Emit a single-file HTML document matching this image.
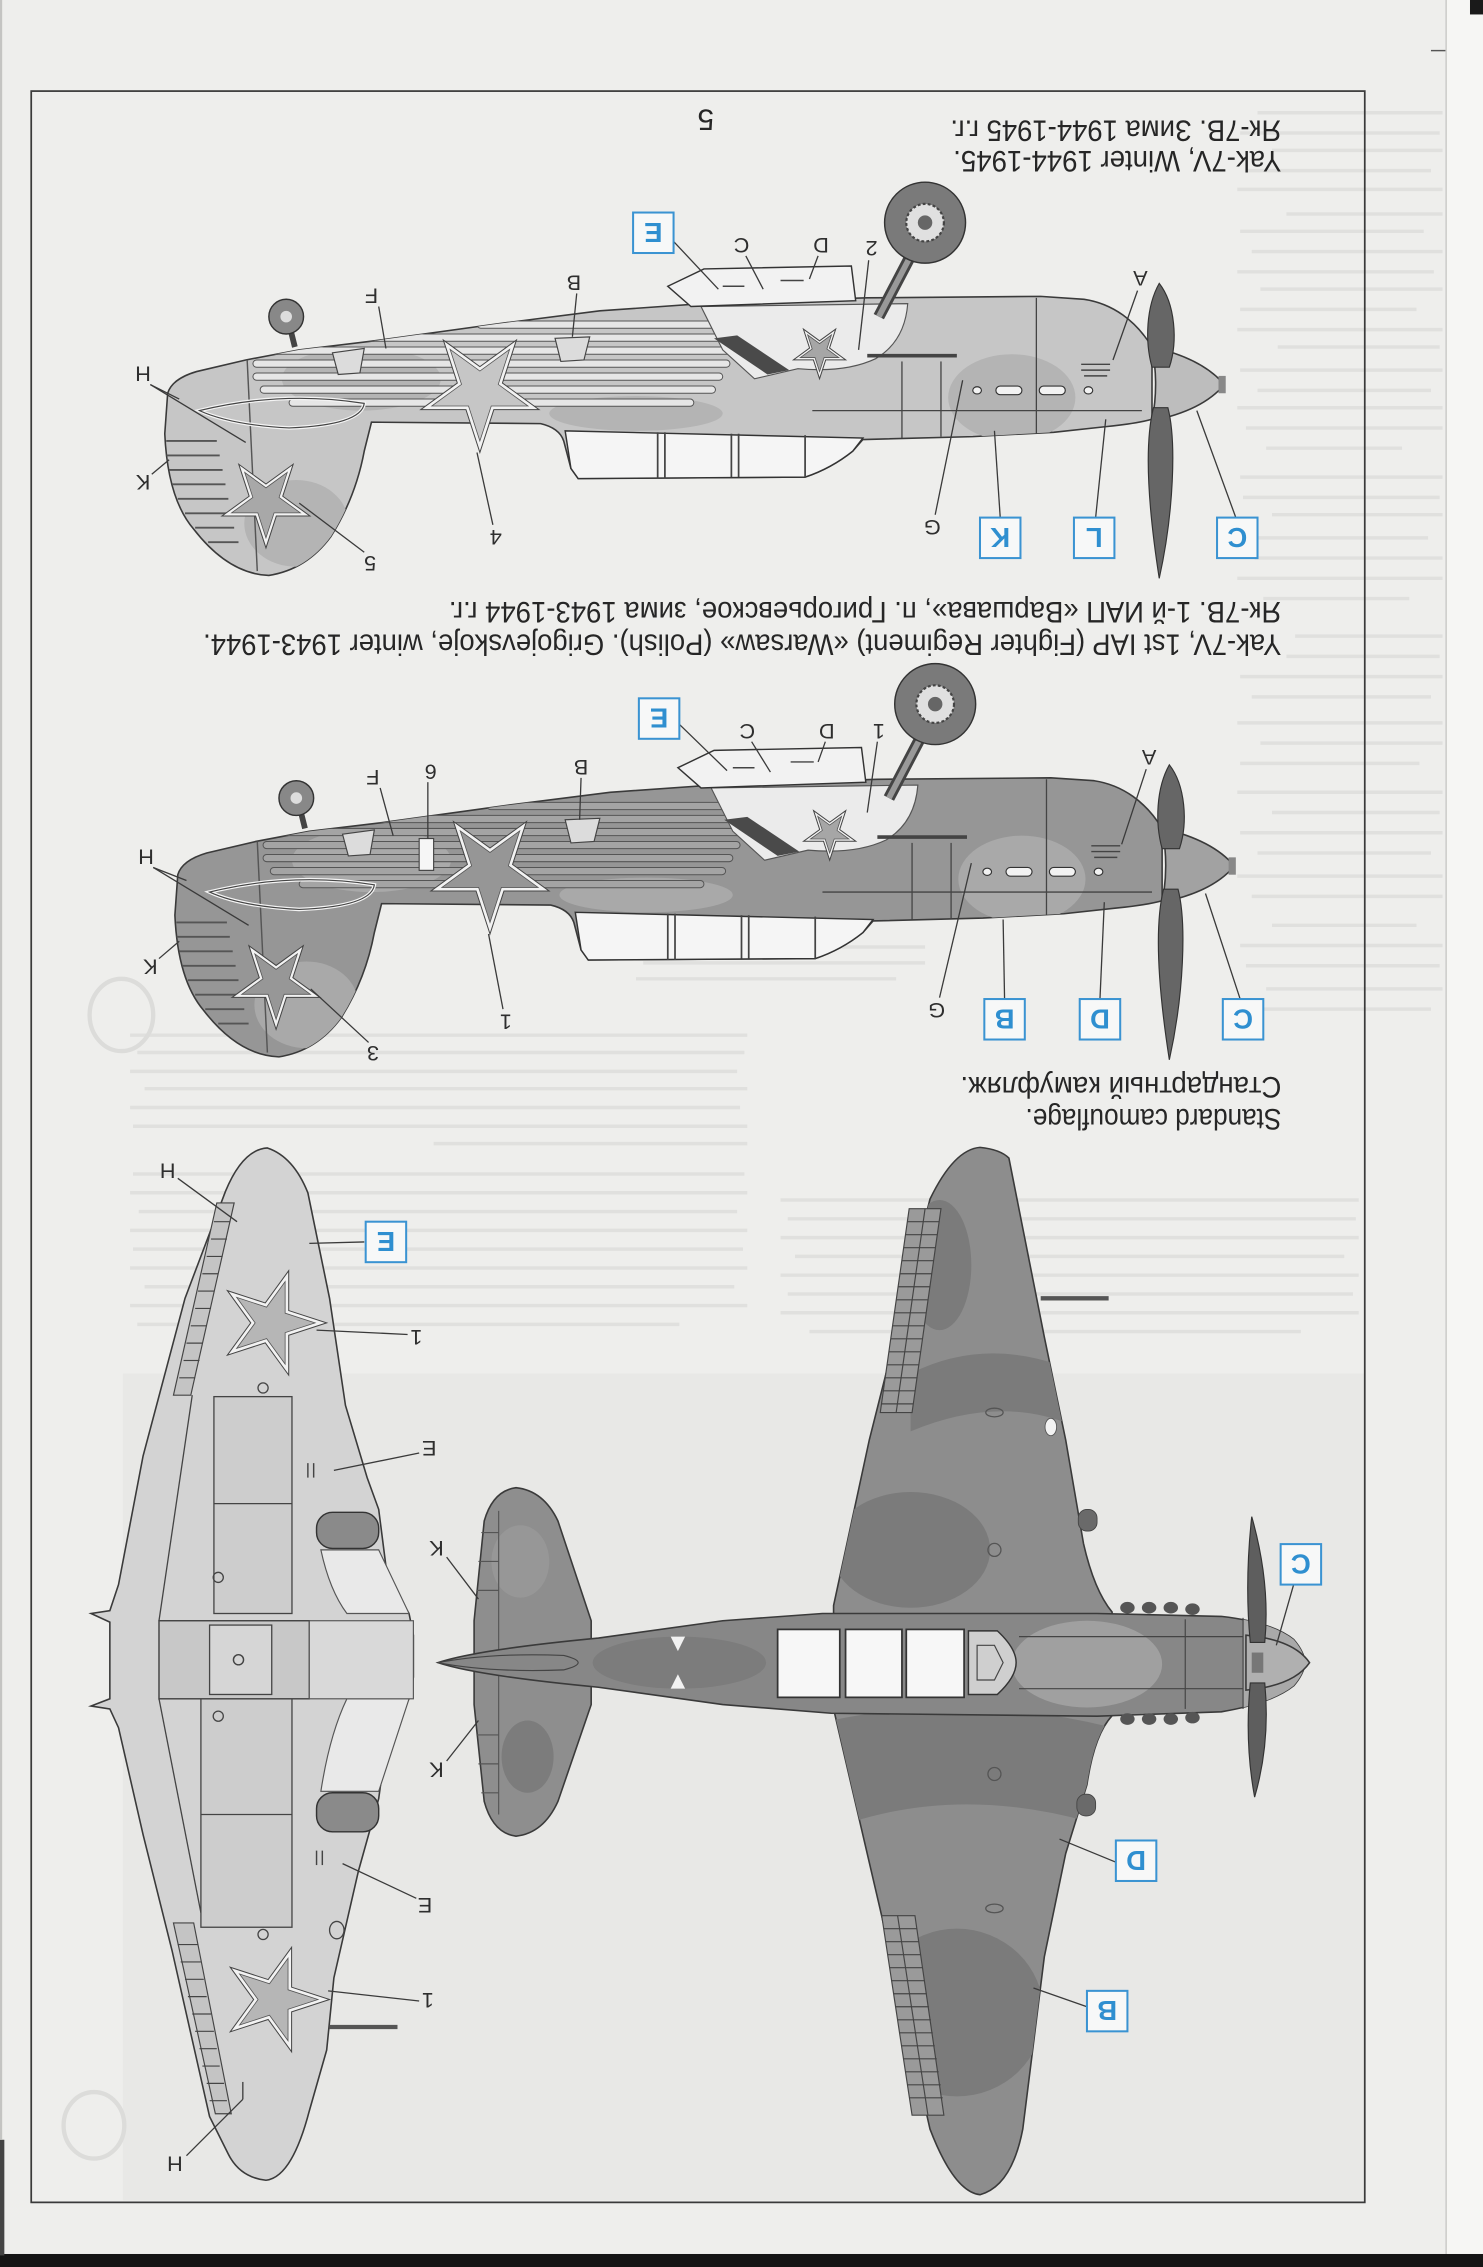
<!DOCTYPE html>
<html><head><meta charset="utf-8">
<style>
html,body{margin:0;padding:0;background:#eeeeec;}
svg{display:block}
.lb{font-family:"Liberation Sans",sans-serif;font-size:15px;fill:#2e2e2e;text-anchor:middle}
.bt{font-family:"Liberation Sans",sans-serif;font-weight:bold;font-size:19px;fill:#2f8fd0;text-anchor:middle}
.bx{fill:#f7f8f8;stroke:#3a93d2;stroke-width:1.4}
.ld{stroke:#3a3a3a;stroke-width:0.9;fill:none}
.t{font-family:"Liberation Sans",sans-serif;font-size:20.5px;fill:#262626}
.g{stroke:#e0e0de;stroke-width:2.4}
.ol{stroke:#3a3a3a;stroke-width:1.1}
</style></head><body>
<svg width="1483" height="2267" viewBox="0 0 1026 1568" preserveAspectRatio="none" xmlns="http://www.w3.org/2000/svg">
<defs>
<polygon id="st" vector-effect="non-scaling-stroke" points="0,1 -0.2245,0.309 -0.951,0.309 -0.363,-0.118 -0.588,-0.809 0,-0.382 0.588,-0.809 0.363,-0.118 0.951,0.309 0.2245,0.309"/>
<clipPath id="cs"><path d="M797,240 C786,222 770,210 750,207 L720,205 L600,206 L500,209 L415,215 L344,224 L257,236 L207,242 L170,249 L136,257 Q119,262 116,272 L114,300 Q116,345 134,366 Q158,397 186,398 Q212,394 229,371 Q246,344 252,312 L257,292 L374,293 Q387,296 390,305 L395,324 L400,331 L557,330 Q575,324 590,312 L597,304 L673,302 L729,299 L766,295 Q786,293 797,290 Z"/></clipPath>
<clipPath id="cw"><path d="M576.7,1110.5 L601.4,996 L643.4,829.4 Q660,795 678,793.6 Q692,795 698,801 L722.5,924.7 L737.3,996 L749.6,1067.6 Q757,1100 769.4,1115 L769.4,1186.7 Q757,1200 752,1234.4 L737.3,1282 L722.5,1353.5 L707.6,1472.6 Q700,1512 678,1518 Q660,1516 643.4,1472.6 L608.8,1320 L576.7,1182 Z"/></clipPath>
<clipPath id="cf"><path d="M303,1150 Q330,1141 414,1133 L500,1121 L569,1116 L759,1116 L845,1118 Q880,1122 895,1134 Q902,1142 903,1150 Q902,1158 895,1166 Q880,1178 845,1184 L759,1187 L575,1185 L500,1179 L414,1167 Q330,1159 303,1150 Z"/></clipPath>
<g id="side">
  <path class="ol" style="fill:var(--body)" d="M797,240 C786,222 770,210 750,207 L720,205 L600,206 L500,209 L415,215 L344,224 L257,236 L207,242 L170,249 L136,257 Q119,262 116,272 L114,300 Q116,345 134,366 Q158,397 186,398 Q212,394 229,371 Q246,344 252,312 L257,292 L374,293 Q387,296 390,305 L395,324 L400,331 L557,330 Q575,324 590,312 L597,304 L673,302 L729,299 L766,295 Q786,293 797,290 Z"/>
  <g clip-path="url(#cs)">
    <ellipse cx="700" cy="275" rx="44" ry="30" style="fill:var(--patch)"/>
    <ellipse cx="250" cy="262" rx="55" ry="22" style="fill:var(--patch)"/>
    <ellipse cx="205" cy="362" rx="36" ry="30" style="fill:var(--patch)"/>
    <ellipse cx="440" cy="286" rx="60" ry="12" style="fill:var(--patch)"/>
    <g style="fill:var(--rib)" stroke="#555" stroke-width="0.7">
      <rect x="330" y="222" width="170" height="5" rx="2.5"/>
      <rect x="230" y="231" width="275" height="5" rx="2.5"/>
      <rect x="185" y="240" width="325" height="5" rx="2.5"/>
      <rect x="175" y="249" width="330" height="5" rx="2.5"/>
      <rect x="175" y="258" width="325" height="5" rx="2.5"/>
      <rect x="180" y="267" width="315" height="5" rx="2.5"/>
      <rect x="200" y="276" width="280" height="5" rx="2.5"/>
    </g>
    <line x1="171" y1="249" x2="178" y2="395" stroke="#555" stroke-width="1"/>
    <g stroke="#555" stroke-width="1.3">
      <line x1="115" y1="305" x2="150" y2="305"/><line x1="115" y1="315" x2="152" y2="315"/>
      <line x1="117" y1="325" x2="154" y2="325"/><line x1="119" y1="335" x2="156" y2="335"/>
      <line x1="123" y1="345" x2="158" y2="345"/><line x1="128" y1="355" x2="160" y2="355"/>
      <line x1="135" y1="365" x2="162" y2="365"/><line x1="144" y1="375" x2="165" y2="375"/>
    </g>
  </g>
  <path d="M138,284 Q195,270 252,279 Q250,294 200,296 Q160,294 138,284 Z" fill="none" stroke="#f4f4f4" stroke-width="2.5"/>
  <path d="M138,284 Q195,270 252,279 Q250,294 200,296 Q160,294 138,284 Z" fill="none" stroke="#444" stroke-width="0.8"/>
  <polygon points="384,234 408,233 404,249 388,250" fill="#dcdcdc" stroke="#444" stroke-width="0.8"/>
  <polygon points="230,244 252,241 249,258 234,259" fill="#dcdcdc" stroke="#444" stroke-width="0.8"/>
  <path d="M485,212 L628,210 Q626,236 606,248 Q585,258 552,255 L522,262 L500,242 Z" fill="#ebebeb" stroke="#555" stroke-width="0.8"/>
  <polygon points="494,234 510,232 546,256 531,259" fill="#4a4a4a"/>
  <path d="M391,298 L597,303 L590,312 Q575,324 557,330 L400,331 L395,324 Z" fill="#f5f5f5" stroke="#333" stroke-width="1"/>
  <g stroke="#444" stroke-width="1.2">
    <line x1="455" y1="299" x2="455" y2="331"/><line x1="460" y1="299" x2="460" y2="331"/>
    <line x1="506" y1="300" x2="506" y2="330"/><line x1="511" y1="300" x2="511" y2="330"/>
    <line x1="557" y1="301" x2="557" y2="330"/>
  </g>
  <g stroke="#444" stroke-width="0.9">
    <line x1="717" y1="206" x2="717" y2="300"/>
    <line x1="624" y1="250" x2="624" y2="303"/><line x1="651" y1="250" x2="651" y2="302"/>
    <line x1="562" y1="284" x2="790" y2="284"/>
  </g>
  <line x1="600" y1="246" x2="662" y2="246" stroke="#444" stroke-width="2.5"/>
  <g fill="#f2f2f2" stroke="#333" stroke-width="0.8">
    <rect x="689" y="267" width="18" height="6" rx="3"/><rect x="719" y="267" width="18" height="6" rx="3"/>
    <ellipse cx="676" cy="270" rx="3" ry="2.5"/><ellipse cx="753" cy="270" rx="3" ry="2.5"/>
  </g>
  <g stroke="#444" stroke-width="1"><line x1="748" y1="252" x2="768" y2="252"/><line x1="748" y1="256" x2="768" y2="256"/><line x1="750" y1="260" x2="766" y2="260"/></g>
  <use href="#st" transform="translate(332,270) scale(43)" fill="#f2f2f2" stroke="#444" stroke-width="1"/>
  <use href="#st" transform="translate(332,270) scale(35)" style="fill:var(--body)" stroke="#555" stroke-width="0.8"/>
  <use href="#st" transform="translate(184,347) scale(32)" fill="#f2f2f2" stroke="#444" stroke-width="1"/>
  <use href="#st" transform="translate(184,347) scale(25)" style="fill:var(--star)" stroke="#555" stroke-width="0.8"/>
  <use href="#st" transform="translate(567,243) scale(19)" fill="#f2f2f2" stroke="#444" stroke-width="1"/>
  <use href="#st" transform="translate(567,243) scale(14)" fill="#a6a6a6" stroke="#555" stroke-width="0.8"/>
  <path d="M478,212 L462,198 L487,186 L589,184 L592,208 Z" fill="#f2f2f2" stroke="#333" stroke-width="1"/>
  <g stroke="#444" stroke-width="1"><line x1="500" y1="198" x2="515" y2="198"/><line x1="540" y1="194" x2="556" y2="194"/></g>
  <line x1="641" y1="156" x2="608" y2="219" stroke="#444" stroke-width="8"/>
  <line x1="641" y1="156" x2="608" y2="219" stroke="#999" stroke-width="4"/>
  <circle cx="640" cy="154" r="28" fill="#7a7a7a" stroke="#333" stroke-width="1"/>
  <circle cx="640" cy="154" r="13" fill="#e0e0e0" stroke="#444" stroke-width="1.5" stroke-dasharray="2 1.5"/>
  <circle cx="640" cy="154" r="5" fill="#666"/>
  <line x1="204" y1="240" x2="200" y2="224" stroke="#444" stroke-width="4"/>
  <circle cx="198" cy="219" r="12" fill="#888" stroke="#333" stroke-width="1"/>
  <circle cx="198" cy="219" r="4" fill="#ddd"/>
  <path class="ol" style="fill:var(--spin)" d="M797,240 Q832,248 847,266 Q832,284 797,291 Q802,266 797,240 Z"/>
  <rect x="843" y="260" width="5" height="12" fill="#888"/>
  <path d="M802,196 C813,210 815,236 809,254 L797,254 C792,236 793,212 802,196 Z" fill="#666" stroke="#333" stroke-width="0.8"/>
  <path d="M798,282 L808,282 C814,305 812,355 802,400 C795,355 791,310 798,282 Z" fill="#666" stroke="#333" stroke-width="0.8"/>
</g>
</defs>

<!-- paper -->
<rect x="0" y="0" width="1026" height="1568" fill="#eeeeec"/>
<rect x="1000" y="0" width="26" height="1560" fill="#f6f6f4"/>
<line x1="1000.5" y1="0" x2="1000.5" y2="1560" stroke="#c9c9c7" stroke-width="1"/>
<rect x="1017" y="0" width="9" height="10" fill="#1a1a1a"/>
<line x1="990" y1="35" x2="1000" y2="35" stroke="#555" stroke-width="1"/>
<rect x="0" y="1559" width="1026" height="9" fill="#151515"/>
<rect x="0" y="1480" width="3" height="80" fill="#444"/>
<rect x="0" y="0" width="1.5" height="1480" fill="#c4c4c2"/>

<!-- ghost bleed-through -->
<rect x="85" y="950" width="859" height="572" fill="#e8e8e6"/>
<g class="g">
<line x1="870" y1="78" x2="998" y2="78"/><line x1="858" y1="92" x2="996" y2="92"/><line x1="880" y1="104" x2="998" y2="104"/>
<line x1="862" y1="118" x2="990" y2="118"/><line x1="856" y1="131" x2="998" y2="131"/><line x1="890" y1="148" x2="998" y2="148"/>
<line x1="858" y1="160" x2="985" y2="160"/><line x1="866" y1="174" x2="998" y2="174"/><line x1="856" y1="188" x2="992" y2="188"/>
<line x1="872" y1="200" x2="998" y2="200"/><line x1="858" y1="214" x2="980" y2="214"/><line x1="856" y1="228" x2="998" y2="228"/>
<line x1="884" y1="240" x2="996" y2="240"/><line x1="858" y1="256" x2="998" y2="256"/><line x1="870" y1="270" x2="990" y2="270"/>
<line x1="856" y1="282" x2="998" y2="282"/><line x1="862" y1="296" x2="998" y2="296"/><line x1="876" y1="310" x2="970" y2="310"/>
<line x1="858" y1="330" x2="998" y2="330"/><line x1="860" y1="344" x2="996" y2="344"/><line x1="880" y1="356" x2="998" y2="356"/>
<line x1="858" y1="372" x2="988" y2="372"/><line x1="868" y1="386" x2="998" y2="386"/><line x1="856" y1="400" x2="998" y2="400"/>
<line x1="874" y1="414" x2="975" y2="414"/><line x1="896" y1="440" x2="998" y2="440"/><line x1="890" y1="454" x2="996" y2="454"/>
<line x1="858" y1="468" x2="998" y2="468"/><line x1="866" y1="482" x2="990" y2="482"/><line x1="856" y1="500" x2="998" y2="500"/>
<line x1="872" y1="514" x2="998" y2="514"/><line x1="858" y1="528" x2="982" y2="528"/><line x1="856" y1="548" x2="998" y2="548"/>
<line x1="880" y1="562" x2="996" y2="562"/><line x1="858" y1="576" x2="998" y2="576"/><line x1="870" y1="590" x2="990" y2="590"/>
<line x1="856" y1="606" x2="998" y2="606"/><line x1="866" y1="620" x2="998" y2="620"/><line x1="880" y1="640" x2="980" y2="640"/>
<line x1="858" y1="654" x2="998" y2="654"/><line x1="862" y1="668" x2="996" y2="668"/><line x1="876" y1="684" x2="998" y2="684"/>
<line x1="858" y1="698" x2="990" y2="698"/>
<line x1="90" y1="716" x2="517" y2="716"/><line x1="95" y1="728" x2="515" y2="728"/><line x1="90" y1="741" x2="510" y2="741"/>
<line x1="100" y1="753" x2="517" y2="753"/><line x1="90" y1="766" x2="512" y2="766"/><line x1="92" y1="779" x2="517" y2="779"/>
<line x1="300" y1="791" x2="517" y2="791"/><line x1="92" y1="812" x2="515" y2="812"/><line x1="90" y1="825" x2="517" y2="825"/>
<line x1="96" y1="838" x2="510" y2="838"/><line x1="90" y1="851" x2="517" y2="851"/><line x1="92" y1="864" x2="514" y2="864"/>
<line x1="90" y1="877" x2="517" y2="877"/><line x1="100" y1="890" x2="508" y2="890"/><line x1="90" y1="903" x2="517" y2="903"/>
<line x1="95" y1="916" x2="470" y2="916"/>
<line x1="540" y1="830" x2="940" y2="830"/><line x1="545" y1="843" x2="938" y2="843"/><line x1="540" y1="856" x2="940" y2="856"/>
<line x1="550" y1="869" x2="930" y2="869"/><line x1="540" y1="882" x2="940" y2="882"/><line x1="545" y1="895" x2="936" y2="895"/>
<line x1="540" y1="908" x2="940" y2="908"/><line x1="560" y1="921" x2="900" y2="921"/>
<line x1="440" y1="655" x2="640" y2="655"/><line x1="445" y1="666" x2="640" y2="666"/><line x1="440" y1="677" x2="620" y2="677"/>
</g>
<ellipse cx="84" cy="702" rx="22" ry="25" fill="none" stroke="#dcdcda" stroke-width="3"/>
<ellipse cx="65" cy="1470" rx="21" ry="23" fill="none" stroke="#dcdcda" stroke-width="3"/>

<!-- frame -->
<rect x="21.6" y="63" width="922.6" height="1460.3" fill="none" stroke="#3a3a3a" stroke-width="1.2"/>

<!-- side views -->
<use href="#side" style="--body:#c6c6c6;--patch:#b4b4b4;--rib:#e6e6e6;--spin:#bdbdbd;--star:#a8a8a8"/>
<use href="#side" transform="translate(7,333)" style="--body:#969696;--patch:#a9a9a9;--rib:#a4a4a4;--spin:#a2a2a2;--star:#979797"/>
<rect x="290" y="580" width="10" height="22" fill="#f6f6f6" stroke="#444" stroke-width="0.8"/>

<!-- plan view C (upper surface) -->
<path class="ol" fill="#8d8d8d" d="M576.7,1110.5 L601.4,996 L643.4,829.4 Q660,795 678,793.6 Q692,795 698,801 L722.5,924.7 L737.3,996 L749.6,1067.6 Q757,1100 769.4,1115 L769.4,1186.7 Q757,1200 752,1234.4 L737.3,1282 L722.5,1353.5 L707.6,1472.6 Q700,1512 678,1518 Q660,1516 643.4,1472.6 L608.8,1320 L576.7,1182 Z"/>
<g clip-path="url(#cw)" fill="#7b7b7b">
  <ellipse cx="650" cy="875" rx="22" ry="45"/>
  <path d="M630,950 Q680,925 735,945 L740,985 Q690,965 630,990 Z"/>
  <ellipse cx="630" cy="1072" rx="55" ry="40"/>
  <path d="M575,1190 Q670,1170 770,1195 L760,1262 Q670,1235 590,1260 Z"/>
  <ellipse cx="662" cy="1392" rx="60" ry="58"/>
</g>
<path fill="#9a9a9a" stroke="#444" stroke-width="0.8" d="M629,836 L651,836 L631,977 L609,977 Z"/>
<path fill="#9a9a9a" stroke="#444" stroke-width="0.8" d="M610,1325 L633,1325 L653,1463 L631,1463 Z"/>
<g stroke="#444" stroke-width="0.8">
<line x1="627.7" y1="845" x2="649.7" y2="845"/><line x1="626.4" y1="854" x2="648.4" y2="854"/><line x1="625.2" y1="863" x2="647.2" y2="863"/><line x1="623.9" y1="872" x2="645.9" y2="872"/><line x1="622.6" y1="881" x2="644.6" y2="881"/><line x1="621.3" y1="890" x2="643.3" y2="890"/><line x1="620.1" y1="899" x2="642.1" y2="899"/><line x1="618.8" y1="908" x2="640.8" y2="908"/><line x1="617.5" y1="917" x2="639.5" y2="917"/><line x1="616.2" y1="926" x2="638.2" y2="926"/><line x1="615" y1="935" x2="637" y2="935"/><line x1="613.7" y1="944" x2="635.7" y2="944"/><line x1="612.4" y1="953" x2="634.4" y2="953"/><line x1="611.1" y1="962" x2="633.1" y2="962"/><line x1="609.9" y1="971" x2="631.9" y2="971"/>
<line x1="611.4" y1="1334" x2="634.4" y2="1334"/><line x1="612.7" y1="1343" x2="635.7" y2="1343"/><line x1="614.1" y1="1352" x2="637.1" y2="1352"/><line x1="615.5" y1="1361" x2="638.5" y2="1361"/><line x1="616.8" y1="1370" x2="639.8" y2="1370"/><line x1="618.2" y1="1379" x2="641.2" y2="1379"/><line x1="619.6" y1="1388" x2="642.6" y2="1388"/><line x1="621" y1="1397" x2="644" y2="1397"/><line x1="622.3" y1="1406" x2="645.3" y2="1406"/><line x1="623.7" y1="1415" x2="646.7" y2="1415"/><line x1="625.1" y1="1424" x2="648.1" y2="1424"/><line x1="626.4" y1="1433" x2="649.4" y2="1433"/><line x1="627.8" y1="1442" x2="650.8" y2="1442"/><line x1="629.2" y1="1451" x2="652.2" y2="1451"/>
<line x1="640" y1="836" x2="620" y2="977"/><line x1="621" y1="1325" x2="642" y2="1463"/>
</g>
<line x1="720" y1="898" x2="767" y2="898" stroke="#555" stroke-width="3"/>
<rect x="746" y="1044" width="13" height="15" rx="6" fill="#6a6a6a" stroke="#444" stroke-width="0.6"/>
<rect x="745" y="1241" width="13" height="15" rx="6" fill="#6a6a6a" stroke="#444" stroke-width="0.6"/>
<g fill="none" stroke="#555" stroke-width="0.9">
<circle cx="688" cy="1072" r="4.5"/><circle cx="688" cy="1227" r="4.5"/>
<ellipse cx="688" cy="977" rx="6" ry="3"/><ellipse cx="688" cy="1320" rx="6" ry="3"/>
</g>
<ellipse cx="727" cy="987" rx="4" ry="6" fill="#f2f2f2" stroke="#555" stroke-width="0.6"/>
<!-- tailplane C -->
<path class="ol" fill="#8e8e8e" d="M357,1029 Q376,1031 386,1052 L409,1121 L409,1179 L386,1246 Q376,1268 357,1270 Q341,1268 335,1246 L328,1179 L328,1121 L335,1052 Q341,1031 357,1029 Z"/>
<ellipse cx="360" cy="1080" rx="20" ry="25" fill="#979797"/>
<ellipse cx="365" cy="1215" rx="18" ry="25" fill="#7c7c7c"/>
<g stroke="#555" stroke-width="0.8">
<line x1="333" y1="1060" x2="345" y2="1060"/><line x1="331" y1="1080" x2="345" y2="1080"/><line x1="330" y1="1100" x2="345" y2="1100"/>
<line x1="330" y1="1200" x2="345" y2="1200"/><line x1="331" y1="1220" x2="345" y2="1220"/><line x1="333" y1="1240" x2="345" y2="1240"/>
<line x1="345" y1="1045" x2="345" y2="1255"/>
</g>
<!-- fuselage C -->
<path class="ol" fill="#878787" d="M303,1150 Q330,1141 414,1133 L500,1121 L569,1116 L759,1116 L845,1118 Q880,1122 895,1134 Q902,1142 903,1150 Q902,1158 895,1166 Q880,1178 845,1184 L759,1187 L575,1185 L500,1179 L414,1167 Q330,1159 303,1150 Z"/>
<g clip-path="url(#cf)">
<ellipse cx="752" cy="1151" rx="52" ry="30" fill="#a0a0a0"/>
<ellipse cx="470" cy="1150" rx="60" ry="18" fill="#7c7c7c"/>
<rect x="860" y="1115" width="50" height="75" fill="#a9a9a9"/>
</g>
<g stroke="#444" stroke-width="0.8" fill="none">
<line x1="705" y1="1132" x2="860" y2="1132"/><line x1="705" y1="1168" x2="860" y2="1168"/>
<line x1="820" y1="1120" x2="820" y2="1182"/><line x1="860" y1="1119" x2="860" y2="1182"/>
<path d="M303,1150 Q340,1143 390,1145 Q410,1150 390,1155 Q340,1157 303,1150"/>
</g>
<g fill="#555"><ellipse cx="780" cy="1112" rx="5" ry="4"/><ellipse cx="795" cy="1112" rx="5" ry="4"/><ellipse cx="810" cy="1112" rx="5" ry="4"/><ellipse cx="825" cy="1113" rx="5" ry="4"/>
<ellipse cx="780" cy="1189" rx="5" ry="4"/><ellipse cx="795" cy="1189" rx="5" ry="4"/><ellipse cx="810" cy="1189" rx="5" ry="4"/><ellipse cx="825" cy="1188" rx="5" ry="4"/></g>
<polygon points="464,1132 474,1132 469,1142" fill="#f2f2f2"/>
<polygon points="464,1168 474,1168 469,1158" fill="#f2f2f2"/>
<g fill="#f7f7f7" stroke="#333" stroke-width="1.2">
<rect x="538" y="1127" width="43" height="47"/><rect x="585" y="1127" width="39" height="47"/><rect x="627" y="1127" width="40" height="47"/>
</g>
<path d="M670,1128 L690,1128 Q703,1140 703,1150 Q703,1160 690,1172 L670,1172 Z" fill="#cfcfcf" stroke="#333" stroke-width="1"/>
<path d="M676,1138 L688,1138 L694,1150 L688,1162 L676,1162 Z" fill="none" stroke="#444" stroke-width="0.8"/>
<path class="ol" fill="#b0b0b0" d="M862,1131 Q895,1134 906,1150 Q895,1166 862,1169 Z"/>
<path d="M866,1049 Q879,1095 875,1136 L865,1136 Q861,1095 866,1049 Z" fill="#5e5e5e" stroke="#333" stroke-width="0.8"/>
<path d="M865,1164 L875,1164 Q879,1205 868,1243 Q861,1205 865,1164 Z" fill="#5e5e5e" stroke="#333" stroke-width="0.8"/>
<rect x="866" y="1143" width="8" height="14" fill="#777"/>

<!-- plan view D (lower surface) -->
<path class="ol" fill="#d3d3d3" d="M185,794 Q203,800 213,825 L228,898 L239,972 L254,1022 L262,1044 L268,1091 L283,1116 L286,1131 L286,1160 L283,1175 L268,1200 L262,1244 L248,1294 L231,1368 L226,1418 L214,1460 Q202,1506 184,1508 Q166,1506 158,1490 L145,1464 L119,1349 L99,1269 L82,1195 L76,1182 L63,1180 L76,1175 L76,1122 L63,1116 L76,1114 L82,1096 L99,1007 L128,898 L156,824 Q168,795 185,794 Z"/>
<g fill="#cdcdcd" stroke="#444" stroke-width="0.9">
<rect x="148" y="966" width="54" height="150"/><rect x="139" y="1175" width="63" height="158"/>
</g>
<g stroke="#444" stroke-width="0.9" fill="none">
<line x1="148" y1="1040" x2="202" y2="1040"/><line x1="139" y1="1255" x2="202" y2="1255"/>
<line x1="133" y1="965" x2="110" y2="1121"/><line x1="110" y1="1175" x2="139" y2="1323"/>
</g>
<rect x="110" y="1121" width="104" height="54" fill="#c8c8c8" stroke="#444" stroke-width="1"/>
<rect x="145" y="1124" width="43" height="48" fill="#d6d6d6" stroke="#444" stroke-width="0.9"/>
<circle cx="165" cy="1148" r="3.5" fill="none" stroke="#444"/>
<path d="M222,1072 L262,1072 L283,1116 L240,1116 Q228,1100 222,1072 Z" fill="#e9e9e9" stroke="#555" stroke-width="0.8"/>
<path d="M222,1239 L262,1239 L283,1175 L240,1175 Q228,1200 222,1239 Z" fill="#e9e9e9" stroke="#555" stroke-width="0.8"/>
<rect x="214" y="1121" width="72" height="54" fill="#d9d9d9" stroke="#555" stroke-width="0.8"/>
<rect x="219" y="1046" width="43" height="25" rx="11" fill="#8a8a8a" stroke="#333" stroke-width="1"/>
<rect x="219" y="1240" width="43" height="27" rx="11" fill="#8a8a8a" stroke="#333" stroke-width="1"/>
<g fill="none" stroke="#444" stroke-width="0.9">
<circle cx="182" cy="960" r="3.5"/><circle cx="151" cy="1091" r="3.5"/><circle cx="151" cy="1187" r="3.5"/><circle cx="182" cy="1338" r="3.5"/>
<ellipse cx="233" cy="1335" rx="5" ry="6"/>
</g>
<path fill="#c4c4c4" stroke="#444" stroke-width="0.8" d="M150,832 L162,832 L132,965 L120,965 Z"/>
<path fill="#c4c4c4" stroke="#444" stroke-width="0.8" d="M120,1330 L134,1330 L160,1462 L149,1462 Z"/>
<g stroke="#444" stroke-width="0.8">
<line x1="148" y1="845" x2="159" y2="845"/><line x1="146" y1="857" x2="157" y2="857"/><line x1="143" y1="869" x2="154" y2="869"/><line x1="140" y1="881" x2="151" y2="881"/><line x1="137" y1="893" x2="148" y2="893"/><line x1="135" y1="905" x2="146" y2="905"/><line x1="132" y1="917" x2="143" y2="917"/><line x1="129" y1="929" x2="140" y2="929"/><line x1="127" y1="941" x2="138" y2="941"/><line x1="124" y1="953" x2="135" y2="953"/>
<line x1="123" y1="1345" x2="137" y2="1345"/><line x1="125" y1="1357" x2="139" y2="1357"/><line x1="128" y1="1369" x2="141" y2="1369"/><line x1="130" y1="1381" x2="143" y2="1381"/><line x1="133" y1="1393" x2="146" y2="1393"/><line x1="135" y1="1405" x2="148" y2="1405"/><line x1="138" y1="1417" x2="150" y2="1417"/><line x1="140" y1="1429" x2="152" y2="1429"/><line x1="143" y1="1441" x2="155" y2="1441"/><line x1="145" y1="1453" x2="157" y2="1453"/>
</g>
<use href="#st" transform="translate(188,915) rotate(-90) scale(38)" fill="#f2f2f2" stroke="#444" stroke-width="1"/>
<use href="#st" transform="translate(188,915) rotate(-90) scale(30)" fill="#b6b6b6" stroke="#555" stroke-width="0.8"/>
<use href="#st" transform="translate(190,1383) rotate(-90) scale(38)" fill="#f2f2f2" stroke="#444" stroke-width="1"/>
<use href="#st" transform="translate(190,1383) rotate(-90) scale(30)" fill="#b6b6b6" stroke="#555" stroke-width="0.8"/>
<line x1="228" y1="1402" x2="275" y2="1402" stroke="#555" stroke-width="3"/>
<g stroke="#444" stroke-width="1"><line x1="213" y1="1012" x2="213" y2="1022"/><line x1="217" y1="1012" x2="217" y2="1022"/><line x1="219" y1="1280" x2="219" y2="1290"/><line x1="223" y1="1280" x2="223" y2="1290"/></g>

<!-- leaders -->
<g class="ld">
<line x1="787" y1="201" x2="770" y2="249"/><line x1="399" y1="203" x2="396" y2="233"/><line x1="262" y1="212" x2="267" y2="241"/>
<line x1="601" y1="180" x2="594" y2="242"/><line x1="516" y1="177" x2="528" y2="200"/><line x1="566" y1="177" x2="560" y2="193"/>
<line x1="466" y1="167" x2="497" y2="200"/><line x1="104" y1="266" x2="124" y2="276"/><line x1="104" y1="266" x2="170" y2="306"/>
<line x1="105" y1="328" x2="117" y2="318"/><line x1="252" y1="382" x2="207" y2="348"/><line x1="341" y1="363" x2="330" y2="313"/>
<line x1="647" y1="356" x2="666" y2="263"/><line x1="692" y1="358" x2="688" y2="298"/><line x1="758" y1="358" x2="765" y2="290"/><line x1="855" y1="358" x2="828" y2="284"/>
<line x1="793" y1="532" x2="776" y2="584"/><line x1="402" y1="538" x2="401" y2="567"/><line x1="263" y1="545" x2="272" y2="578"/>
<line x1="296" y1="541" x2="296" y2="580"/><line x1="106" y1="600" x2="129" y2="609"/><line x1="106" y1="600" x2="172" y2="640"/>
<line x1="110" y1="663" x2="124" y2="651"/><line x1="255" y1="721" x2="215" y2="684"/><line x1="348" y1="698" x2="338" y2="646"/>
<line x1="650" y1="690" x2="672" y2="597"/><line x1="695" y1="691" x2="694" y2="636"/><line x1="761" y1="691" x2="764" y2="624"/><line x1="858" y1="691" x2="834" y2="618"/>
<line x1="520" y1="513" x2="533" y2="534"/><line x1="571" y1="513" x2="566" y2="527"/><line x1="607" y1="513" x2="600" y2="562"/><line x1="470" y1="501" x2="503" y2="533"/>
<line x1="123" y1="815" x2="164" y2="845"/><line x1="252" y1="859" x2="214" y2="860"/><line x1="282" y1="923" x2="219" y2="920"/>
<line x1="290" y1="1005" x2="231" y2="1017"/><line x1="309" y1="1077" x2="331" y2="1106"/><line x1="309" y1="1218" x2="331" y2="1190"/>
<line x1="288" y1="1313" x2="237" y2="1289"/><line x1="290" y1="1384" x2="227" y2="1377"/><line x1="129" y1="1491" x2="168" y2="1452"/><line x1="168" y1="1440" x2="168" y2="1452"/>
<line x1="895" y1="1096" x2="883" y2="1138"/><line x1="772" y1="1288" x2="733" y2="1272"/><line x1="752" y1="1388" x2="715" y2="1375"/>
</g>

<!-- labels plane A -->
<text class="lb" x="789" y="198.4" transform="rotate(180 789 193)">A</text>
<text class="lb" x="397" y="201.4" transform="rotate(180 397 196)">B</text>
<text class="lb" x="257" y="210.4" transform="rotate(180 257 205)">F</text>
<text class="lb" x="603" y="177.4" transform="rotate(180 603 172)">2</text>
<text class="lb" x="513" y="175.4" transform="rotate(180 513 170)">C</text>
<text class="lb" x="568" y="175.4" transform="rotate(180 568 170)">D</text>
<text class="lb" x="99" y="264.4" transform="rotate(180 99 259)">H</text>
<text class="lb" x="99" y="339.4" transform="rotate(180 99 334)">K</text>
<text class="lb" x="256" y="395.4" transform="rotate(180 256 390)">5</text>
<text class="lb" x="343" y="377.4" transform="rotate(180 343 372)">4</text>
<text class="lb" x="645" y="370.4" transform="rotate(180 645 365)">G</text>
<rect class="bx" x="438" y="147" width="28" height="28"/><text class="bt" x="452" y="167.9" transform="rotate(180 452 161)">E</text>
<rect class="bx" x="678" y="358" width="28" height="28"/><text class="bt" x="692" y="378.9" transform="rotate(180 692 372)">K</text>
<rect class="bx" x="743" y="358" width="28" height="28"/><text class="bt" x="757" y="378.9" transform="rotate(180 757 372)">L</text>
<rect class="bx" x="842" y="358" width="28" height="28"/><text class="bt" x="856" y="378.9" transform="rotate(180 856 372)">C</text>

<!-- labels plane B -->
<text class="lb" x="795" y="529.4" transform="rotate(180 795 524)">A</text>
<text class="lb" x="402" y="536.4" transform="rotate(180 402 531)">B</text>
<text class="lb" x="298" y="539.4" transform="rotate(180 298 534)">6</text>
<text class="lb" x="258" y="543.4" transform="rotate(180 258 538)">F</text>
<text class="lb" x="101" y="598.4" transform="rotate(180 101 593)">H</text>
<text class="lb" x="104" y="674.4" transform="rotate(180 104 669)">K</text>
<text class="lb" x="258" y="734.4" transform="rotate(180 258 729)">3</text>
<text class="lb" x="350" y="712.4" transform="rotate(180 350 707)">1</text>
<text class="lb" x="648" y="704.4" transform="rotate(180 648 699)">G</text>
<text class="lb" x="517" y="511.4" transform="rotate(180 517 506)">C</text>
<text class="lb" x="572" y="511.4" transform="rotate(180 572 506)">D</text>
<text class="lb" x="608" y="511.4" transform="rotate(180 608 506)">1</text>
<rect class="bx" x="442" y="483" width="28" height="28"/><text class="bt" x="456" y="503.9" transform="rotate(180 456 497)">E</text>
<rect class="bx" x="681" y="691" width="28" height="28"/><text class="bt" x="695" y="711.9" transform="rotate(180 695 705)">B</text>
<rect class="bx" x="747" y="691" width="28" height="28"/><text class="bt" x="761" y="711.9" transform="rotate(180 761 705)">D</text>
<rect class="bx" x="846" y="691" width="28" height="28"/><text class="bt" x="860" y="711.9" transform="rotate(180 860 705)">C</text>

<!-- labels plan views -->
<text class="lb" x="116" y="815.4" transform="rotate(180 116 810)">H</text>
<rect class="bx" x="253" y="845" width="28" height="28"/><text class="bt" x="267" y="865.9" transform="rotate(180 267 859)">E</text>
<text class="lb" x="288" y="931" transform="rotate(180 288 925.5)">1</text>
<text class="lb" x="297" y="1007.4" transform="rotate(180 297 1002)">E</text>
<text class="lb" x="302" y="1076.7" transform="rotate(180 302 1071.3)">K</text>
<text class="lb" x="302" y="1229.8" transform="rotate(180 302 1224.4)">K</text>
<text class="lb" x="294" y="1323.7" transform="rotate(180 294 1318.3)">E</text>
<text class="lb" x="296" y="1389.4" transform="rotate(180 296 1384)">1</text>
<text class="lb" x="121" y="1502.4" transform="rotate(180 121 1497)">H</text>
<rect class="bx" x="886" y="1068" width="28" height="28"/><text class="bt" x="900" y="1088.9" transform="rotate(180 900 1082)">C</text>
<rect class="bx" x="772" y="1273" width="28" height="28"/><text class="bt" x="786" y="1293.9" transform="rotate(180 786 1287)">D</text>
<rect class="bx" x="752" y="1377" width="28" height="28"/><text class="bt" x="766" y="1397.9" transform="rotate(180 766 1391)">B</text>

<!-- captions (upside down) -->
<text class="t" x="886.5" y="104.3" transform="rotate(180 886.5 104.3)" textLength="227" lengthAdjust="spacingAndGlyphs">Yak-7V, Winter 1944-1945.</text>
<text class="t" x="886.5" y="83.3" transform="rotate(180 886.5 83.3)" textLength="229" lengthAdjust="spacingAndGlyphs">Як-7В. Зима 1944-1945 г.г.</text>
<text class="t" x="494" y="75.8" transform="rotate(180 494 75.8)">5</text>
<text class="t" x="886.5" y="438.8" transform="rotate(180 886.5 438.8)" textLength="746" lengthAdjust="spacingAndGlyphs">Yak-7V, 1st IAP (Fighter Regiment) «Warsaw» (Polish). Grigojevskoje, winter 1943-1944.</text>
<text class="t" x="886.5" y="416.3" transform="rotate(180 886.5 416.3)" textLength="576" lengthAdjust="spacingAndGlyphs">Як-7В. 1-й ИАП «Варшава», п. Григорьевское, зима 1943-1944 г.г.</text>
<text class="t" x="886.5" y="767" transform="rotate(180 886.5 767)" textLength="177" lengthAdjust="spacingAndGlyphs">Standard camouflage.</text>
<text class="t" x="886.5" y="745" transform="rotate(180 886.5 745)" textLength="222" lengthAdjust="spacingAndGlyphs">Стандартный камуфляж.</text>
</svg>
</body></html>
